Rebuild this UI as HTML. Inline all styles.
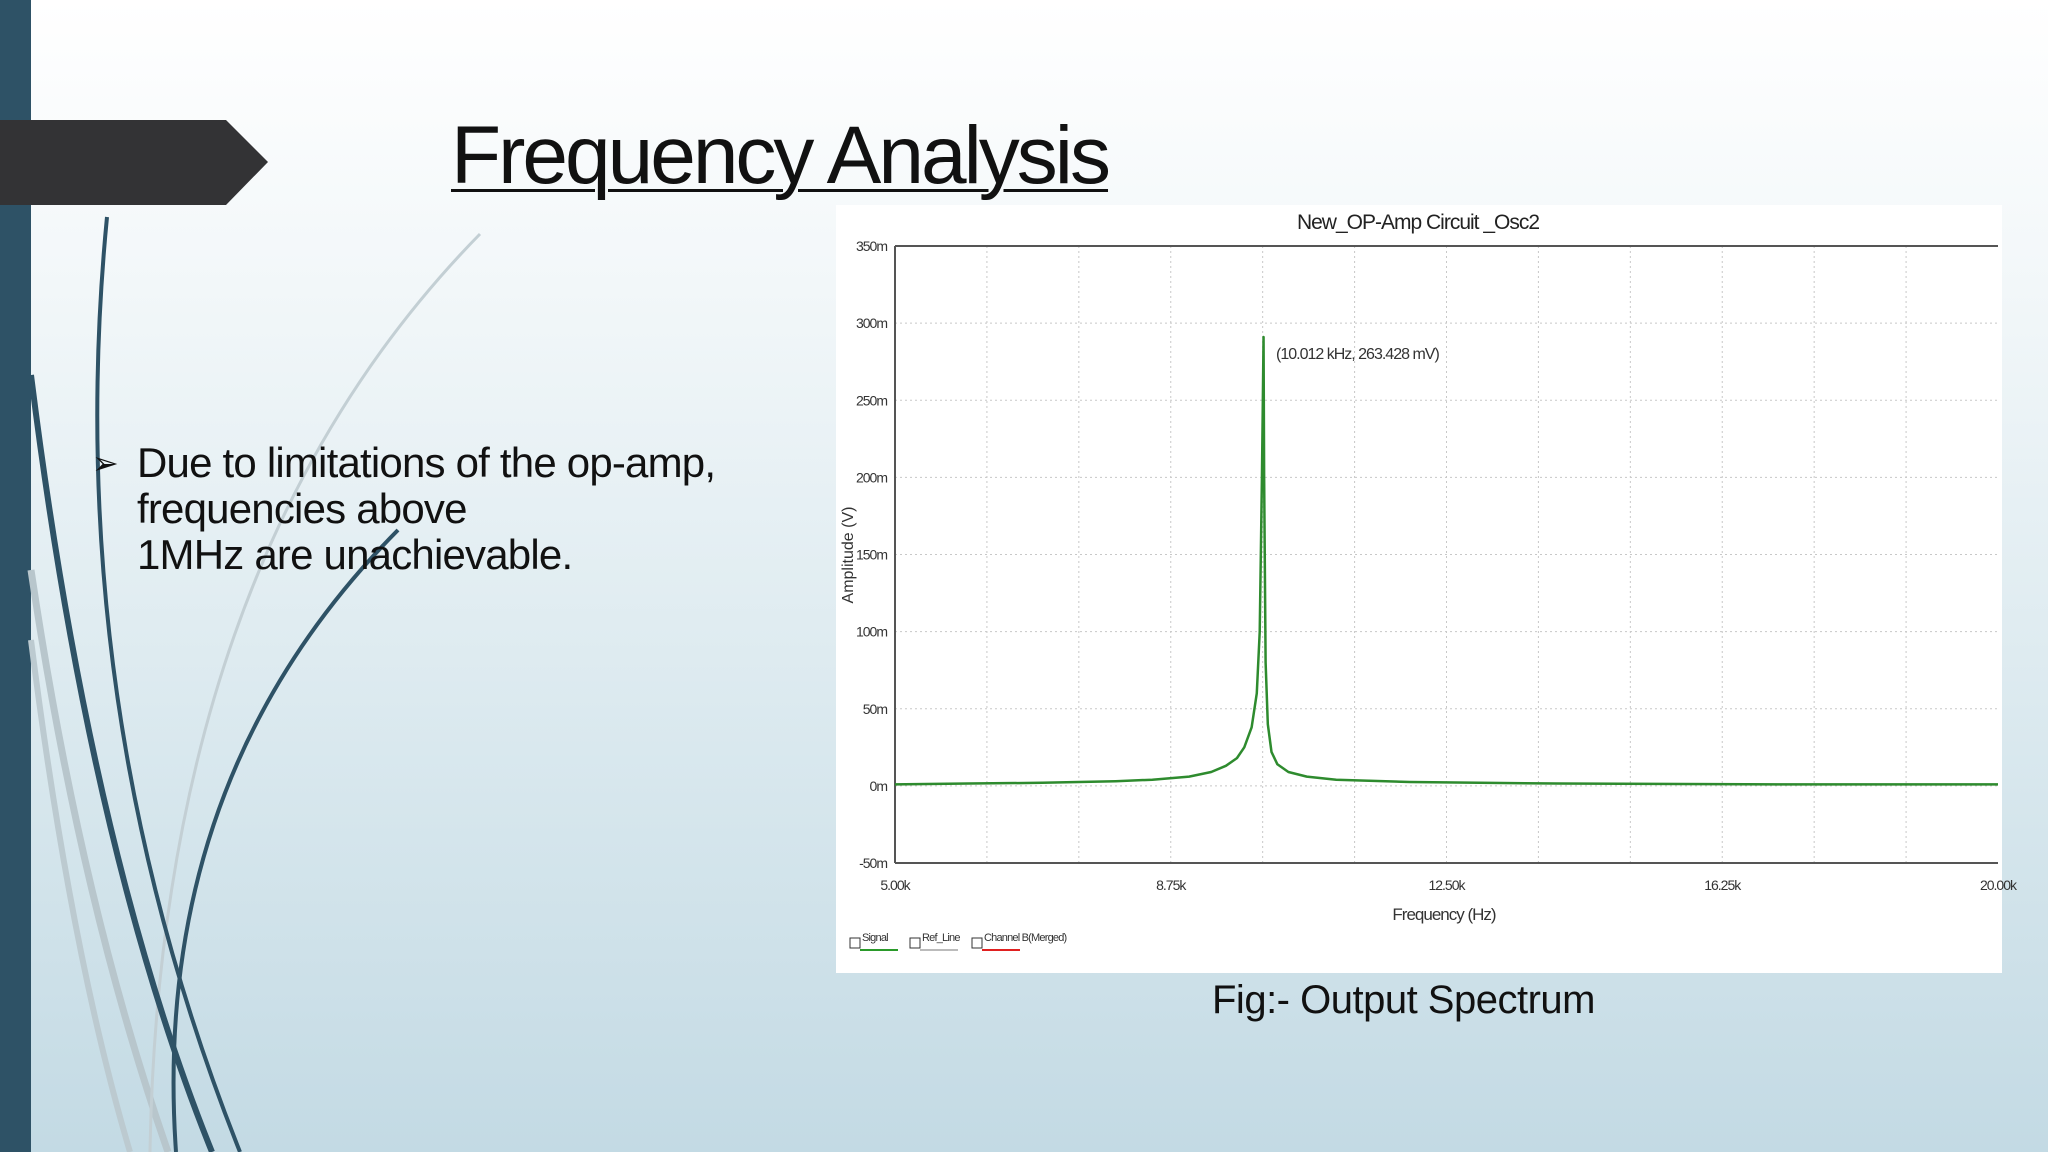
<!DOCTYPE html>
<html><head><meta charset="utf-8"><style>
body{margin:0;width:2048px;height:1152px;overflow:hidden;position:relative;font-family:"Liberation Sans",sans-serif;background:linear-gradient(180deg,#ffffff 0%,#f2f7f9 25%,#d9e8ee 65%,#c3dae4 100%);}
.abs{position:absolute}
</style></head><body>
<svg class="abs" style="left:0;top:0" width="2048" height="1152">
<rect x="0" y="0" width="31" height="1152" fill="#2e5266"/>
<path d="M31,570 Q80,900 168,1152" stroke="#b8c6cc" stroke-width="7" fill="none"/>
<path d="M31,640 Q70,950 130,1152" stroke="#bccad0" stroke-width="6" fill="none"/>
<path d="M480,234 Q160,560 150,1152" stroke="#c3cfd4" stroke-width="3" fill="none"/>
<path d="M107,217 Q60,700 240,1152" stroke="#2e5266" stroke-width="4" fill="none"/>
<path d="M31,375 Q90,850 212,1152" stroke="#2e5266" stroke-width="6" fill="none"/>
<path d="M398,530 Q150,780 176,1152" stroke="#2e5266" stroke-width="4" fill="none"/>
<polygon points="0,120 226,120 268,162 226,205 0,205" fill="#333335"/>
</svg>
<div class="abs" style="left:451px;top:106px;font-size:82px;color:#111;text-decoration:underline;text-decoration-thickness:3px;text-underline-offset:6px;letter-spacing:-3px;line-height:100px;">Frequency Analysis</div>
<div class="abs" style="left:92px;top:440px;font-size:42px;color:#111;line-height:46px;letter-spacing:-0.8px;">
<span style="position:absolute;left:0;top:0;font-size:32px">➢</span>
<div style="padding-left:45px">Due to limitations of the op-amp,<br>frequencies above<br>1MHz are unachievable.</div></div>
<div class="abs" style="left:1212px;top:978px;font-size:40px;color:#111;letter-spacing:-0.5px;">Fig:- Output Spectrum</div>
<svg class="abs" style="left:0;top:0" width="2048" height="1152" id="chart">
<rect x="836" y="205" width="1166" height="768" fill="#fff"/>
<g id="grid"></g><g id="axes"></g><g id="series"></g>
</svg>
<script>
const freqK=[5.0,6.0,7.0,8.0,8.5,9.0,9.3,9.5,9.65,9.75,9.85,9.92,9.96,9.99,10.0,10.012,10.02,10.04,10.07,10.12,10.2,10.35,10.6,11.0,12.0,14.0,17.0,20.0];
const ampM=[1,1.5,2,3,4,6,9,13,18,25,38,60,100,200,240,291,200,80,40,22,14,9,6,4,2.5,1.5,1,1];
const yTicks=[350,300,250,200,150,100,50,0,-50];
const xTicks=[5,8.75,12.5,16.25,20];
const xTickLabels=["5.00k","8.75k","12.50k","16.25k","20.00k"];
const NS="http://www.w3.org/2000/svg";
const X0=895,X1=1998,Y0=863,Y1=246;
const xs=f=>X0+(f-5)/15*(X1-X0);
const ys=v=>Y0-(v+50)/400*(Y0-Y1);
function mk(tag,attrs,parent){const e=document.createElementNS(NS,tag);for(const k in attrs)e.setAttribute(k,attrs[k]);parent.appendChild(e);return e;}
const g=document.getElementById('grid'),ax=document.getElementById('axes'),se=document.getElementById('series');
for(let i=1;i<12;i++){const l=mk('line',{x1:xs(5+i*1.25),x2:xs(5+i*1.25),y1:Y1,y2:Y0,stroke:'#c8c8c8','stroke-dasharray':'2,3'},g);
}
yTicks.forEach(v=>{if(v>-50&&v<350){const l=mk('line',{x1:X0,x2:X1,y1:ys(v),y2:ys(v),stroke:'#c8c8c8','stroke-dasharray':'2,3'},g);
}
const t=mk('text',{x:X0-8,y:ys(v)+5,'text-anchor':'end','font-size':14,fill:'#333','letter-spacing':'-1'},ax);t.textContent=v+'m';
});
xTicks.forEach((f,i)=>{const t=mk('text',{x:xs(f),y:890,'text-anchor':'middle','font-size':14,fill:'#333','letter-spacing':'-1'},ax);t.textContent=xTickLabels[i];
});
let a=mk('line',{x1:X0,x2:X1,y1:Y1,y2:Y1,stroke:'#555','stroke-width':2},ax);
a=mk('line',{x1:X0,x2:X1,y1:Y0,y2:Y0,stroke:'#555','stroke-width':2},ax);
a=mk('line',{x1:X0,x2:X0,y1:Y1,y2:Y0,stroke:'#555','stroke-width':2},ax);
let t=mk('text',{x:1418,y:229,'text-anchor':'middle','font-size':21,fill:'#222','letter-spacing':'-1'},ax);t.textContent='New_OP-Amp Circuit _Osc2';

t=mk('text',{x:1444,y:920,'text-anchor':'middle','font-size':17,fill:'#333','letter-spacing':'-1'},ax);t.textContent='Frequency (Hz)';

t=mk('text',{x:853,y:555,'text-anchor':'middle','font-size':16,fill:'#333',transform:'rotate(-90 853 555)'},ax);t.textContent='Amplitude (V)';

t=mk('text',{x:1276,y:359,'font-size':16,fill:'#333','letter-spacing':'-1'},ax);t.textContent='(10.012 kHz, 263.428 mV)';

const pts=freqK.map((f,i)=>xs(f)+','+ys(ampM[i])).join(' ');
const p=mk('polyline',{points:pts,fill:'none',stroke:'#2e8b2e','stroke-width':2.5,'stroke-linejoin':'round'},se);

const leg=[['Signal','#2a9a2a',850],['Ref_Line','#bbb',910],['Channel B(Merged)','#e02020',972]];
leg.forEach(([n,c,x])=>{const b=mk('rect',{x:x,y:938,width:10,height:10,fill:'#fff',stroke:'#333'},ax);

const l=mk('line',{x1:x+10,x2:x+48,y1:950,y2:950,stroke:c,'stroke-width':2},ax);
const tt=mk('text',{x:x+12,y:941,'font-size':11,fill:'#333','letter-spacing':'-0.8'},ax);tt.textContent=n;
});
</script>
</body></html>
